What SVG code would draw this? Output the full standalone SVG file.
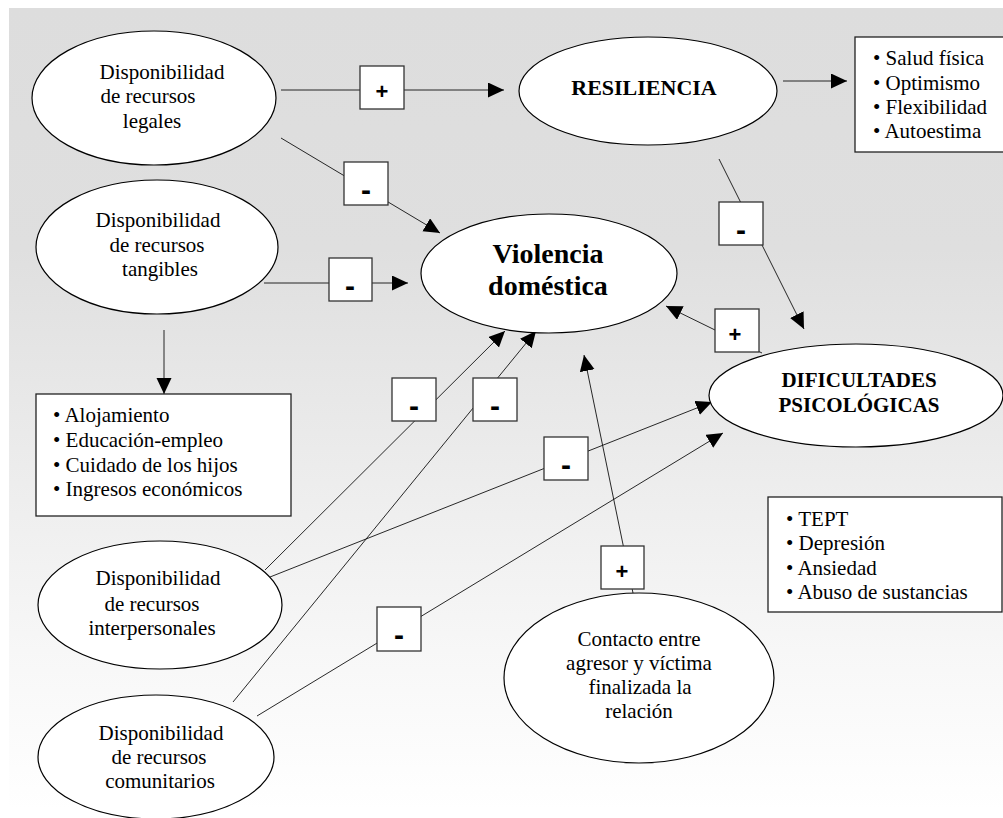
<svg xmlns="http://www.w3.org/2000/svg" width="1003" height="818" viewBox="0 0 1003 818">
  <defs>
    <linearGradient id="bg" x1="0" y1="0" x2="0" y2="1">
      <stop offset="0" stop-color="#dddddd"/>
      <stop offset="0.3" stop-color="#dfdfdf"/>
      <stop offset="0.55" stop-color="#ebebeb"/>
      <stop offset="0.8" stop-color="#f7f7f7"/>
      <stop offset="1" stop-color="#ffffff"/>
    </linearGradient>
    <marker id="arr" markerWidth="16" markerHeight="16" refX="16" refY="7.5" orient="auto" markerUnits="userSpaceOnUse">
      <path d="M0,0 L16,7.5 L0,15 Z" fill="#000"/>
    </marker>
  </defs>
  <style>
    .node { fill: #ffffff; stroke: #000; stroke-width: 1.2; }
    .list { fill: #ffffff; stroke: #222; stroke-width: 1.3; }
    .sign { fill: #ffffff; stroke: #333; stroke-width: 1.3; }
    .edge { fill: none; stroke: #111; stroke-width: 0.9; }
    .arrow { marker-end: url(#arr); }
    .t { font-family: "Liberation Serif", "Times New Roman", serif; font-size: 21px; fill: #000; }
    .c { text-anchor: middle; }
    .b { font-weight: bold; }
    .plus { font-family: "Liberation Sans", Arial, sans-serif; font-size: 22px; font-weight: bold; text-anchor: middle; fill: #000; }
    .minus { font-family: "Liberation Sans", Arial, sans-serif; font-size: 30px; font-weight: bold; text-anchor: middle; fill: #000; }
  </style>

  <!-- page background -->
  <rect x="0" y="0" width="1003" height="818" fill="#ffffff"/>
  <rect x="9" y="8" width="994" height="802" fill="url(#bg)"/>

  <!-- connectors -->
  <g id="connectors">
    <line class="edge" x1="281" y1="90" x2="504" y2="90" marker-end="url(#arr)"/>
    <line class="edge" x1="281" y1="138" x2="440" y2="233" marker-end="url(#arr)"/>
    <line class="edge" x1="264" y1="283" x2="408" y2="283" marker-end="url(#arr)"/>
    <line class="edge" x1="164" y1="330" x2="164" y2="394" marker-end="url(#arr)"/>
    <line class="edge" x1="783" y1="81" x2="847" y2="81" marker-end="url(#arr)"/>
    <line class="edge" x1="719" y1="159" x2="804" y2="329" marker-end="url(#arr)"/>
    <line class="edge" x1="762" y1="353" x2="666" y2="306" marker-end="url(#arr)"/>
    <line class="edge" x1="265" y1="570" x2="505" y2="331" marker-end="url(#arr)"/>
    <line class="edge" x1="233" y1="702" x2="536" y2="331" marker-end="url(#arr)"/>
    <line class="edge" x1="270" y1="577" x2="712" y2="402" marker-end="url(#arr)"/>
    <line class="edge" x1="257" y1="716" x2="723" y2="433" marker-end="url(#arr)"/>
    <line class="edge" x1="633" y1="593" x2="584" y2="355" marker-end="url(#arr)"/>
  </g>

  <!-- signs on the connectors -->
  <g id="signs">
    <g id="sign-legales-resiliencia">
      <rect class="sign" x="360" y="66" width="44" height="43"/>
      <text class="plus" x="382" y="99">+</text>
    </g>
    <g id="sign-legales-violencia">
      <rect class="sign" x="344" y="162" width="44" height="43"/>
      <text class="minus" x="366" y="200">-</text>
    </g>
    <g id="sign-tangibles-violencia">
      <rect class="sign" x="329" y="258" width="43" height="43"/>
      <text class="minus" x="350" y="296">-</text>
    </g>
    <g id="sign-resiliencia-dificultades">
      <rect class="sign" x="719" y="202" width="44" height="43"/>
      <text class="minus" x="741" y="240">-</text>
    </g>
    <g id="sign-dificultades-violencia">
      <rect class="sign" x="715" y="309" width="44" height="43"/>
      <text class="plus" x="735" y="342">+</text>
    </g>
    <g id="sign-interpersonales-violencia">
      <rect class="sign" x="392" y="378" width="44" height="43"/>
      <text class="minus" x="414" y="416">-</text>
    </g>
    <g id="sign-comunitarios-violencia">
      <rect class="sign" x="473" y="378" width="44" height="43"/>
      <text class="minus" x="495" y="416">-</text>
    </g>
    <g id="sign-interpersonales-dificultades">
      <rect class="sign" x="544" y="437" width="44" height="43"/>
      <text class="minus" x="566" y="475">-</text>
    </g>
    <g id="sign-contacto-violencia">
      <rect class="sign" x="601" y="546" width="43" height="43"/>
      <text class="plus" x="622" y="579">+</text>
    </g>
    <g id="sign-comunitarios-dificultades">
      <rect class="sign" x="377" y="607" width="44" height="44"/>
      <text class="minus" x="399" y="645">-</text>
    </g>
  </g>

  <!-- nodes -->
  <g id="legales">
    <ellipse class="node" cx="154" cy="98" rx="122" ry="67"/>
    <text class="t c" x="162" y="79">Disponibilidad</text>
    <text class="t c" x="148" y="103">de recursos</text>
    <text class="t c" x="152" y="128">legales</text>
  </g>
  <g id="tangibles">
    <ellipse class="node" cx="157" cy="247" rx="121" ry="67"/>
    <text class="t c" x="158" y="227">Disponibilidad</text>
    <text class="t c" x="157" y="252">de recursos</text>
    <text class="t c" x="160" y="276">tangibles</text>
  </g>
  <g id="resiliencia">
    <ellipse class="node" cx="648" cy="91" rx="129" ry="54"/>
    <text class="t c b" x="644" y="95" style="font-size:22px">RESILIENCIA</text>
  </g>
  <g id="resiliencia-factores">
    <rect class="list" x="855" y="37" width="160" height="115"/>
    <text class="t" x="873" y="65">• Salud física</text>
    <text class="t" x="873" y="90">• Optimismo</text>
    <text class="t" x="873" y="114">• Flexibilidad</text>
    <text class="t" x="873" y="138">• Autoestima</text>
  </g>
  <g id="violencia">
    <ellipse class="node" cx="549" cy="273.5" rx="128" ry="59.5"/>
    <text class="t c b" x="548" y="263" style="font-size:28px">Violencia</text>
    <text class="t c b" x="548" y="295" style="font-size:28px">doméstica</text>
  </g>
  <g id="recursos-tangibles">
    <rect class="list" x="36" y="394" width="255" height="122"/>
    <text class="t" x="53" y="422">• Alojamiento</text>
    <text class="t" x="53" y="447">• Educación-empleo</text>
    <text class="t" x="53" y="472">• Cuidado de los hijos</text>
    <text class="t" x="53" y="496">• Ingresos económicos</text>
  </g>
  <g id="dificultades">
    <ellipse class="node" cx="856" cy="395.5" rx="147" ry="51.5"/>
    <text class="t c b" x="859" y="387">DIFICULTADES</text>
    <text class="t c b" x="859" y="412">PSICOLÓGICAS</text>
  </g>
  <g id="dificultades-lista">
    <rect class="list" x="768" y="497" width="234" height="115"/>
    <text class="t" x="786" y="526">• TEPT</text>
    <text class="t" x="786" y="550">• Depresión</text>
    <text class="t" x="786" y="575">• Ansiedad</text>
    <text class="t" x="786" y="599">• Abuso de sustancias</text>
  </g>
  <g id="interpersonales">
    <ellipse class="node" cx="160" cy="605" rx="122" ry="64"/>
    <text class="t c" x="158" y="585">Disponibilidad</text>
    <text class="t c" x="152" y="611">de recursos</text>
    <text class="t c" x="152" y="635">interpersonales</text>
  </g>
  <g id="comunitarios">
    <ellipse class="node" cx="156" cy="757" rx="118" ry="62"/>
    <text class="t c" x="161" y="740">Disponibilidad</text>
    <text class="t c" x="159" y="764">de recursos</text>
    <text class="t c" x="160" y="788">comunitarios</text>
  </g>
  <g id="contacto">
    <ellipse class="node" cx="639" cy="678" rx="135" ry="85"/>
    <text class="t c" x="639" y="646">Contacto entre</text>
    <text class="t c" x="639" y="670">agresor y víctima</text>
    <text class="t c" x="640" y="694">finalizada la</text>
    <text class="t c" x="639" y="718">relación</text>
  </g>
</svg>
